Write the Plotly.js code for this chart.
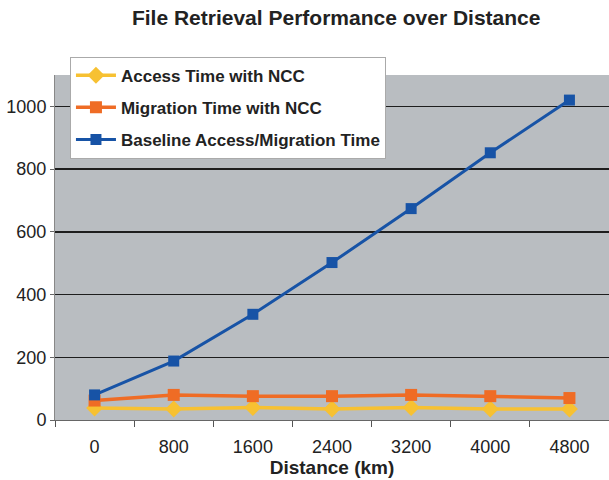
<!DOCTYPE html>
<html>
<head>
<meta charset="utf-8">
<script src="https://cdn.plot.ly/plotly-3.0.1.min.js"></script>
<style>html,body{margin:0;padding:0;background:#fff;}#chart{width:609px;height:480px;}</style>
</head>
<body>
<div id="chart"></div>
<script>
const distances = ['0', '800', '1600', '2400', '3200', '4000', '4800'];
const accessNCC = [38, 35, 40, 35, 40, 35, 35];
const migrationNCC = [62, 80, 76, 76, 80, 76, 70];
const baseline = [80, 188, 337, 502, 674, 852, 1020];
const yTicks = [0, 200, 400, 600, 800, 1000];
const seriesNames = ['Access Time with NCC', 'Migration Time with NCC', 'Baseline Access/Migration Time'];

const traces = [
  {x: distances, y: accessNCC, name: seriesNames[0], legendgroup: 'a', type: 'scatter', mode: 'lines+markers',
   line: {color: '#f7c132', width: 3.5}, marker: {symbol: 'diamond', size: 13, color: '#f7c132'}},
  {x: distances, y: migrationNCC, name: seriesNames[1], legendgroup: 'b', type: 'scatter', mode: 'lines+markers',
   line: {color: '#ef6c25', width: 3.5}, marker: {symbol: 'square', size: 12, color: '#ef6c25'}},
  {x: distances, y: baseline, name: seriesNames[2], legendgroup: 'c', type: 'scatter', mode: 'lines+markers',
   line: {color: '#1753a6', width: 3}, marker: {symbol: 'square', size: 11, color: '#1753a6'}}
];

const layout = {
  width: 609, height: 480,
  margin: {l: 55, r: 0, t: 75, b: 60},
  paper_bgcolor: '#ffffff',
  plot_bgcolor: '#b9bdc1',
  font: {family: 'Liberation Sans, Arial, sans-serif', color: '#222', size: 18},
  title: {text: '<b>File Retrieval Performance over Distance</b>', x: 0.552, xanchor: 'center', y: 0.9625, yanchor: 'middle',
          font: {size: 21, color: '#222'}},
  showlegend: true,
  legend: {x: 0.027, y: 1.053, xanchor: 'left', yanchor: 'top', bgcolor: '#ffffff', bordercolor: '#aaaaaa', borderwidth: 1,
           font: {size: 17, color: '#222', weight: 'bold'}, tracegroupgap: 7, traceorder: 'grouped', itemwidth: 40},
  xaxis: {
    type: 'category', range: [-0.5, 6.5], tickson: 'boundaries', ticks: 'outside', ticklen: 6, tickcolor: '#555',
    showgrid: false, showline: true, linecolor: '#666', linewidth: 1, zeroline: false,
    tickfont: {size: 18, color: '#222'}, ticklabelstandoff: 10,
    title: {text: '<b>Distance (km)</b>', font: {size: 19, color: '#222'}, standoff: 3}
  },
  yaxis: {
    range: [0, 1100], tickvals: yTicks, ticktext: yTicks.map(String), ticks: 'outside', ticklen: 4, tickcolor: '#666',
    showgrid: true, gridcolor: '#1e1e1e', gridwidth: 1.5, showline: true, linecolor: '#888', linewidth: 1,
    zeroline: false, tickfont: {size: 18, color: '#222'}
  }
};

Plotly.newPlot('chart', traces, layout, {displayModeBar: false, staticPlot: true});
</script>
</body>
</html>
